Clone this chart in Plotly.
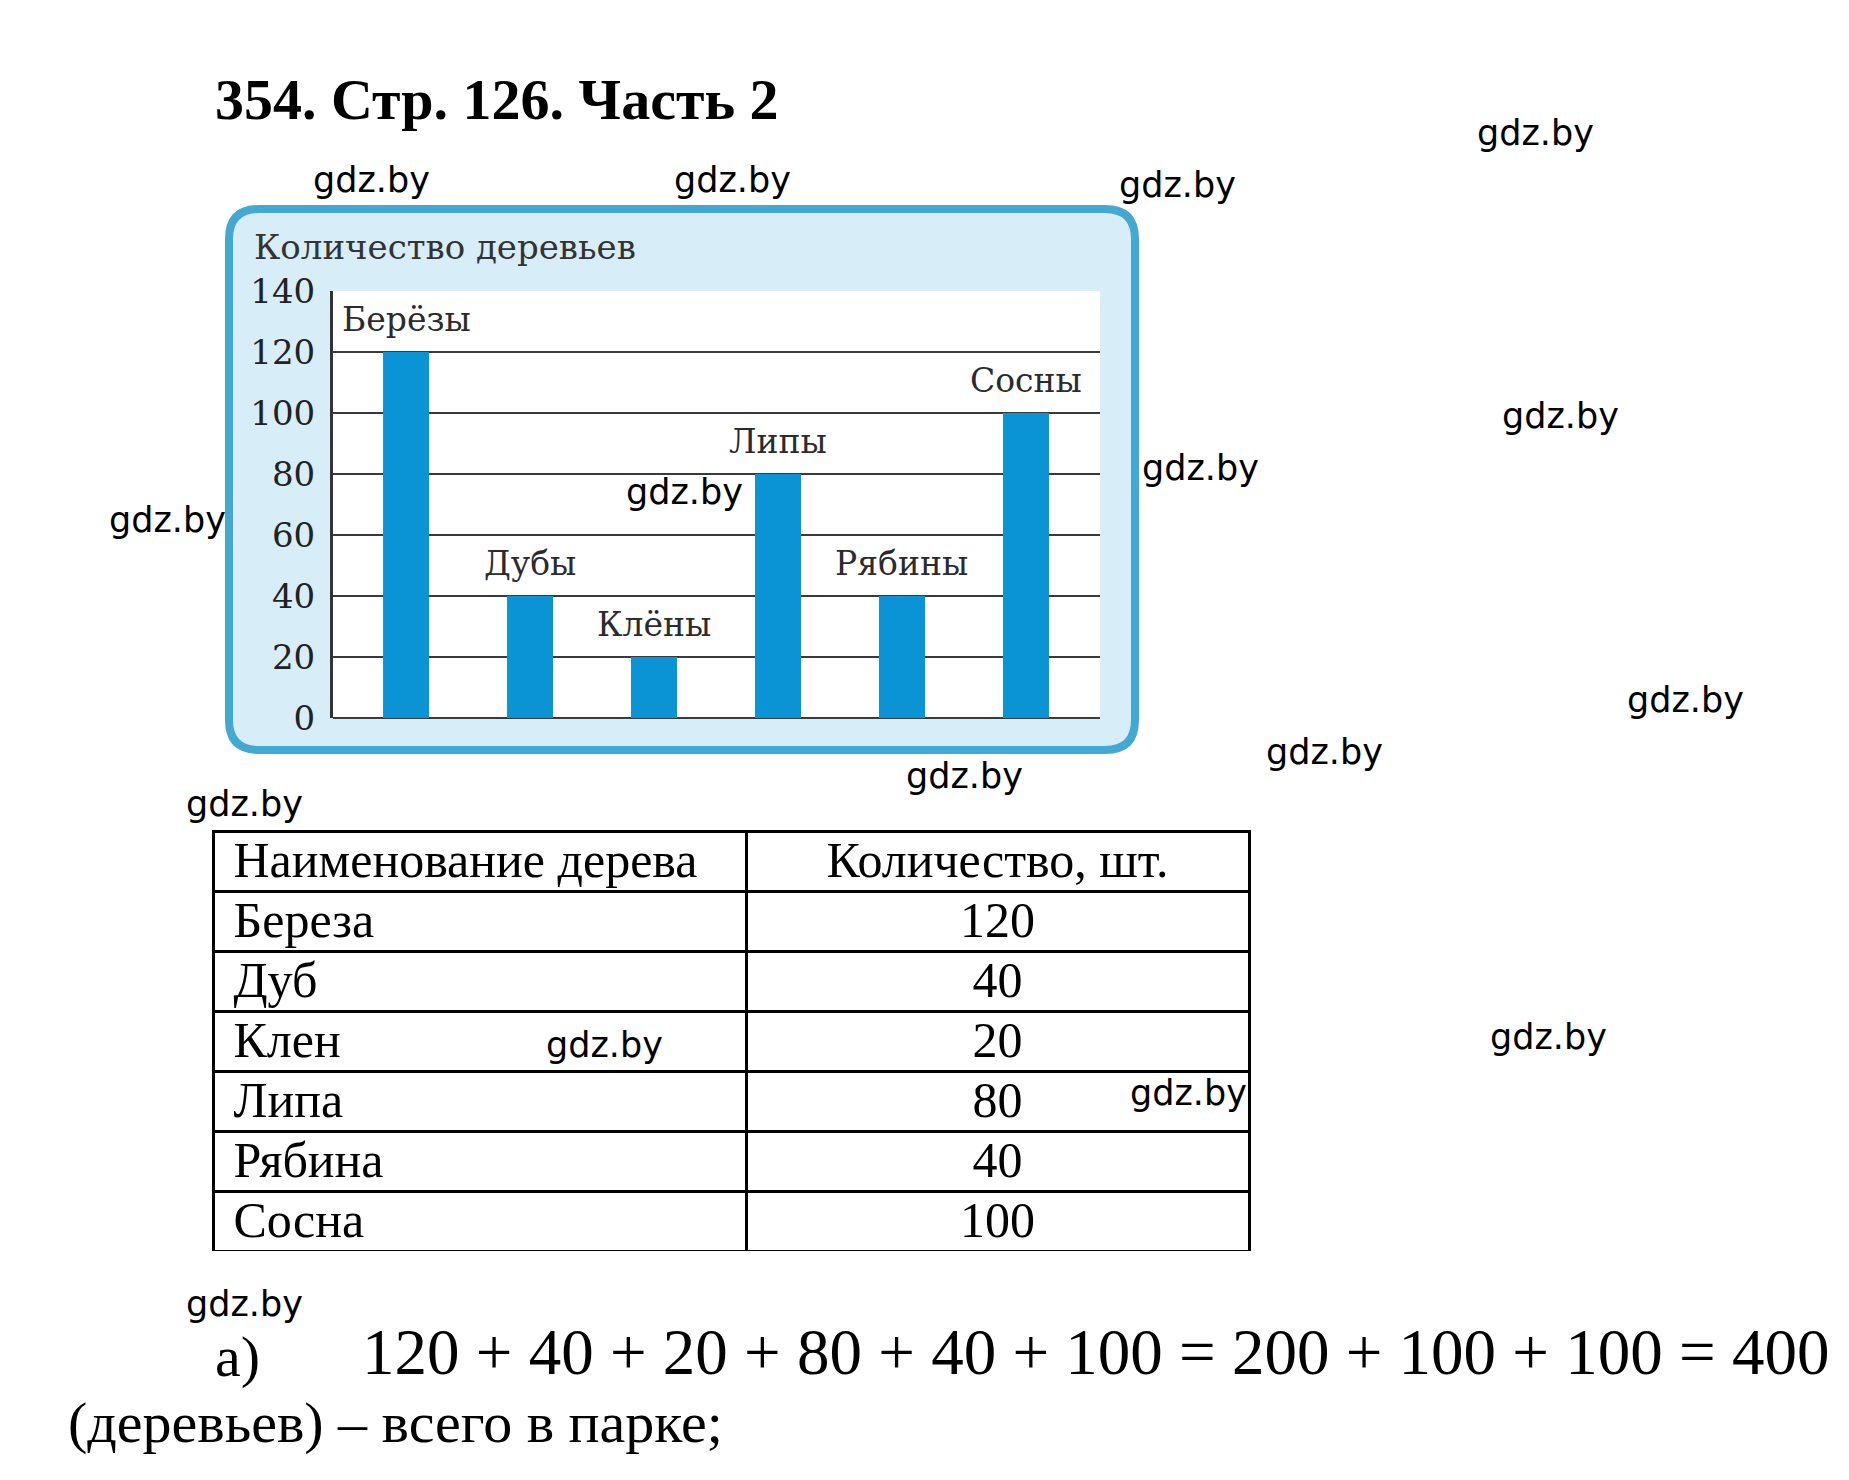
import plotly.graph_objects as go

# ---------------- data ----------------
chart_title = "Количество деревьев"
bar_labels = ["Берёзы", "Дубы", "Клёны", "Липы", "Рябины", "Сосны"]
bar_values = [120, 40, 20, 80, 40, 100]
y_ticks = [0, 20, 40, 60, 80, 100, 120, 140]

table_header = ["Наименование дерева", "Количество, шт."]
table_names = ["Береза", "Дуб", "Клен", "Липа", "Рябина", "Сосна"]
table_counts = [120, 40, 20, 80, 40, 100]

page_title = "354. Стр. 126. Часть 2"
answer_label = "а)"
answer_expr = "120 + 40 + 20 + 80 + 40 + 100 = 200 + 100 + 100 = 400"
answer_tail = "(деревьев) – всего в парке;"
watermark = "gdz.by"

# ---------------- layout helpers ----------------
W, H = 1849, 1480


def px(x):
    return x / W


def py(y):
    return 1 - y / H


# watermark positions (left x, middle y) in page pixels
WM_POS = [(1475, 133), (311, 180), (672, 180), (1117, 185), (1500, 416),
          (1140, 468), (107, 520), (624, 492), (1625, 700), (1264, 752),
          (904, 776), (184, 804), (1488, 1037), (544, 1045), (1128, 1093),
          (184, 1304)]

PAD = "\u00a0"  # small left inset for the first table column

fig = go.Figure()

fig.add_trace(go.Bar(
    x=list(range(len(bar_values))), y=bar_values, width=0.371,
    marker=dict(color="#0A94D6", line=dict(width=0)),
    hoverinfo="skip", xaxis="x", yaxis="y"))

table_font = dict(family="Liberation Serif", size=50, color="black")
fig.add_trace(go.Table(
    domain=dict(x=[px(213), px(1249)], y=[py(1251), py(831)]),
    columnwidth=[533, 503],
    header=dict(values=[PAD + table_header[0], table_header[1]], height=60,
                align=["left", "center"],
                line=dict(color="black", width=3),
                fill=dict(color="white"), font=table_font),
    cells=dict(values=[[PAD + n for n in table_names], table_counts], height=60,
               align=["left", "center"],
               line=dict(color="black", width=3),
               fill=dict(color="white"), font=table_font),
))

# rounded light-blue frame of the chart
L, R, T, B, r = 229, 1135, 209, 750, 30
path = (f"M {px(L + r)},{py(T)} L {px(R - r)},{py(T)} Q {px(R)},{py(T)} {px(R)},{py(T + r)} "
        f"L {px(R)},{py(B - r)} Q {px(R)},{py(B)} {px(R - r)},{py(B)} "
        f"L {px(L + r)},{py(B)} Q {px(L)},{py(B)} {px(L)},{py(B - r)} "
        f"L {px(L)},{py(T + r)} Q {px(L)},{py(T)} {px(L + r)},{py(T)} Z")
shapes = [
    dict(type="path", xref="paper", yref="paper", path=path, layer="below",
         fillcolor="#D7EDF8", line=dict(color="#43A8D2", width=8)),
    dict(type="rect", xref="paper", yref="paper", layer="below",
         x0=px(333), x1=px(1100), y0=py(718), y1=py(291),
         fillcolor="white", line=dict(width=0)),
]

annotations = []
# labels above bars
for i, (lab, v) in enumerate(zip(bar_labels, bar_values)):
    annotations.append(dict(x=i, y=v, xref="x", yref="y", text=lab, showarrow=False,
                            yshift=33, xanchor="center", yanchor="middle",
                            font=dict(family="DejaVu Serif", size=33, color="#2b2b2b")))

annotations += [
    dict(x=px(252), y=py(247), xref="paper", yref="paper", text=chart_title,
         showarrow=False, xanchor="left", yanchor="middle",
         font=dict(family="DejaVu Serif", size=34, color="#333333")),
    dict(x=px(213), y=py(99), xref="paper", yref="paper", text=f"<b>{page_title}</b>",
         showarrow=False, xanchor="left", yanchor="middle",
         font=dict(family="Liberation Serif", size=58, color="black")),
    dict(x=px(213), y=py(1356), xref="paper", yref="paper", text=answer_label,
         showarrow=False, xanchor="left", yanchor="middle",
         font=dict(family="Liberation Serif", size=58, color="black")),
    dict(x=px(360), y=py(1352), xref="paper", yref="paper", text=answer_expr,
         showarrow=False, xanchor="left", yanchor="middle",
         font=dict(family="Liberation Serif", size=65, color="black")),
    dict(x=px(66), y=py(1422), xref="paper", yref="paper", text=answer_tail,
         showarrow=False, xanchor="left", yanchor="middle",
         font=dict(family="Liberation Serif", size=58, color="black")),
]
for (wx, wy) in WM_POS:
    annotations.append(dict(x=px(wx), y=py(wy), xref="paper", yref="paper", text=watermark,
                            showarrow=False, xanchor="left", yanchor="middle",
                            font=dict(family="DejaVu Sans", size=35, color="black")))

fig.update_layout(
    width=W, height=H, autosize=False,
    margin=dict(l=0, r=0, t=0, b=0, pad=0, autoexpand=False),
    paper_bgcolor="white", plot_bgcolor="rgba(0,0,0,0)",
    showlegend=False,
    xaxis=dict(domain=[px(333), px(1100)], range=[-0.589, 5.597],
               showticklabels=False, showgrid=False, zeroline=False, showline=False,
               fixedrange=True, automargin=False),
    yaxis=dict(domain=[py(718), py(291)], range=[0, 140], tickvals=y_ticks,
               showgrid=True, gridcolor="#3a3a3a", gridwidth=2,
               zeroline=True, zerolinecolor="#3a3a3a", zerolinewidth=2,
               showline=True, linecolor="#333333", linewidth=3,
               ticks="", ticklabelstandoff=8, automargin=False,
               tickfont=dict(family="DejaVu Serif", size=34, color="#222222"),
               fixedrange=True),
    shapes=shapes,
    annotations=annotations,
)

fig.write_html("out.html", config={"displayModeBar": False},
               post_script="document.body.style.margin='0';")
